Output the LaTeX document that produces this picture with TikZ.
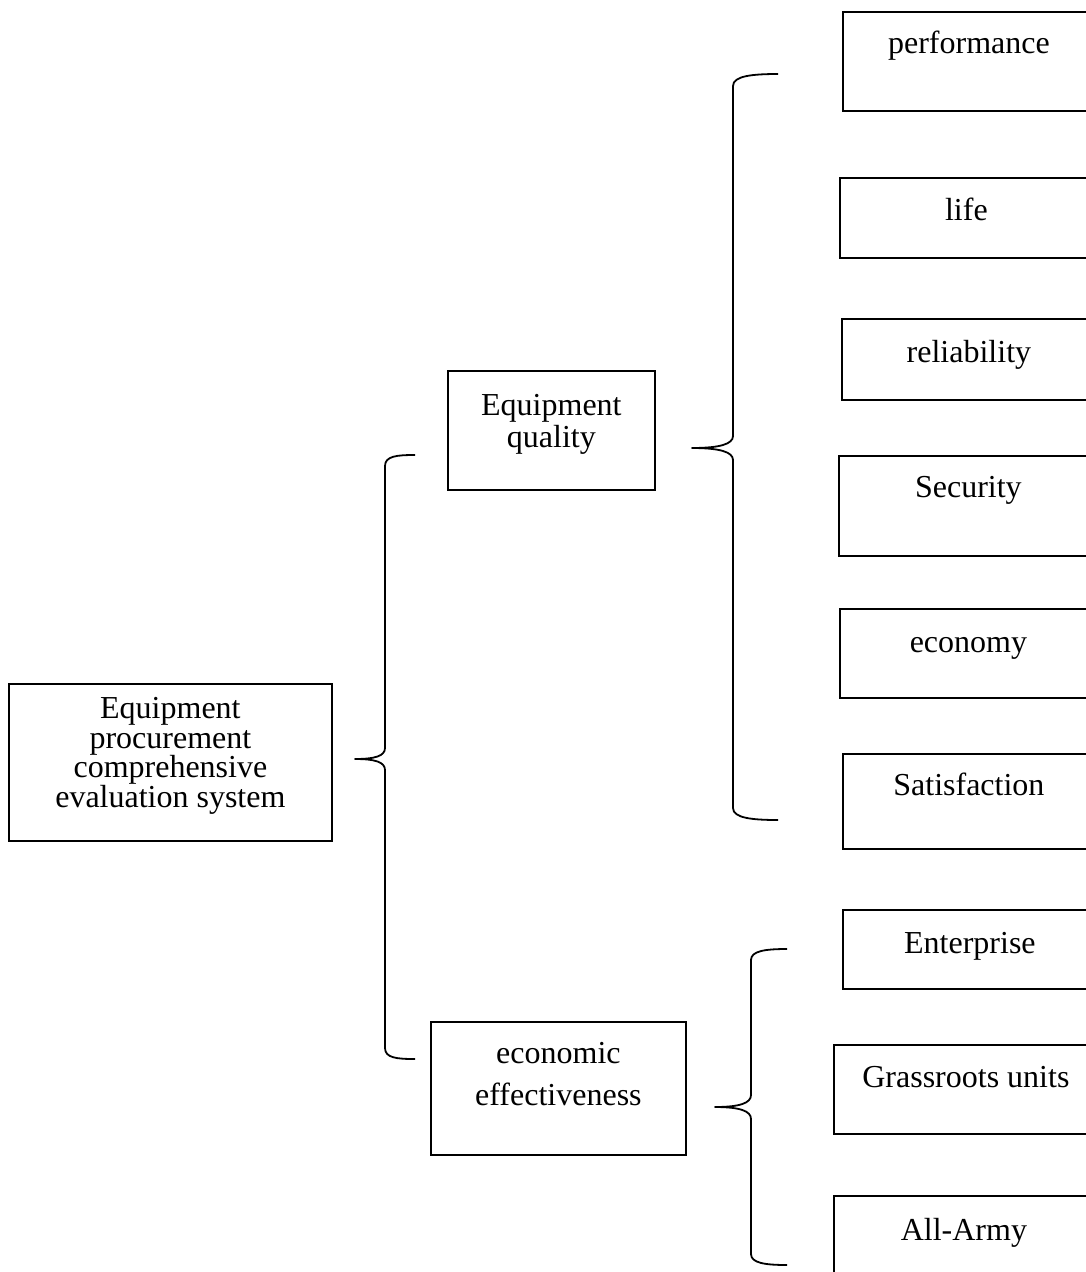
\documentclass[tikz,border=0pt]{standalone}
\usepackage{fontspec}
\setmainfont{Liberation Serif}
\newcommand{\stk}[2][32pt]{\vtop{\baselineskip=#1\relax\lineskiplimit=-100pt\lineskip=0pt\halign{\hfil##\hfil\cr#2\crcr}}}
\tikzset{
  box/.style={draw, line width=1.8pt, rectangle, inner sep=0pt, anchor=north west,
              font=\fontsize{32pt}{36pt}\selectfont},
  brace/.style={line width=1.8pt, line join=round},
}
\begin{document}
\begin{tikzpicture}[x=1pt,y=-1pt]
\useasboundingbox (0,0) rectangle (1086,1272);
\clip (0,0) rectangle (1086,1272);
% level 0
\node[box, minimum width=323pt, text height=35pt, text depth=122pt] (root) at (8,683)
  {\stk[29.5pt]{Equipment\cr procurement\cr comprehensive\cr evaluation system}};
% level 1
\node[box, minimum width=207pt, text height=45pt, text depth=74pt] (quality) at (447,370)
  {\stk[32pt]{Equipment\cr quality}};
\node[box, minimum width=255pt, text height=42pt, text depth=91pt] (econ) at (430,1021)
  {\stk[42pt]{economic\cr effectiveness}};
% level 2
\node[box, minimum width=252pt, text height=42pt, text depth=57pt] (perf) at (842,11) {performance};
\node[box, minimum width=253pt, text height=43pt, text depth=37pt] (life) at (839,177) {life};
\node[box, minimum width=254pt, text height=44pt, text depth=37pt] (rel) at (841,318) {reliability};
\node[box, minimum width=259pt, text height=42pt, text depth=58pt] (sec) at (838,455) {Security};
\node[box, minimum width=257pt, text height=44pt, text depth=45pt] (eco) at (839,608) {economy};
\node[box, minimum width=252pt, text height=42pt, text depth=53pt] (sat) at (842,753) {Satisfaction};
\node[box, minimum width=254pt, text height=44pt, text depth=35pt] (ent) at (842,909) {Enterprise};
\node[box, minimum width=264pt, text height=43pt, text depth=46pt] (grass) at (833,1044) {Grassroots units};
\node[box, minimum width=260pt, text height=45pt, text depth=55pt] (army) at (833,1195) {All-Army};
% braces
\coordinate (b0top) at (415,455);
\coordinate (b0tip) at (355,759);
\coordinate (b0bot) at (415,1059);
\draw[brace] (b0top) .. controls (397,455) and (385,456) .. (385,466) -- (385,748)
  .. controls (385,756) and (375,759) .. (b0tip)
  .. controls (375,759) and (385,762) .. (385,770) -- (385,1048)
  .. controls (385,1058) and (397,1059) .. (b0bot);
\coordinate (b1top) at (778,74);
\coordinate (b1tip) at (692,448);
\coordinate (b1bot) at (778,820);
\draw[brace] (b1top) .. controls (752,74) and (733,76) .. (733,86) -- (733,436)
  .. controls (733,444) and (720,448) .. (b1tip)
  .. controls (720,448) and (733,452) .. (733,460) -- (733,808)
  .. controls (733,818) and (752,820) .. (b1bot);
\coordinate (b2top) at (787,949);
\coordinate (b2tip) at (715,1107);
\coordinate (b2bot) at (787,1265);
\draw[brace] (b2top) .. controls (765,949) and (751,951) .. (751,960) -- (751,1095)
  .. controls (751,1103) and (740,1107) .. (b2tip)
  .. controls (740,1107) and (751,1111) .. (751,1119) -- (751,1254)
  .. controls (751,1263) and (765,1265) .. (b2bot);
\end{tikzpicture}
\end{document}
